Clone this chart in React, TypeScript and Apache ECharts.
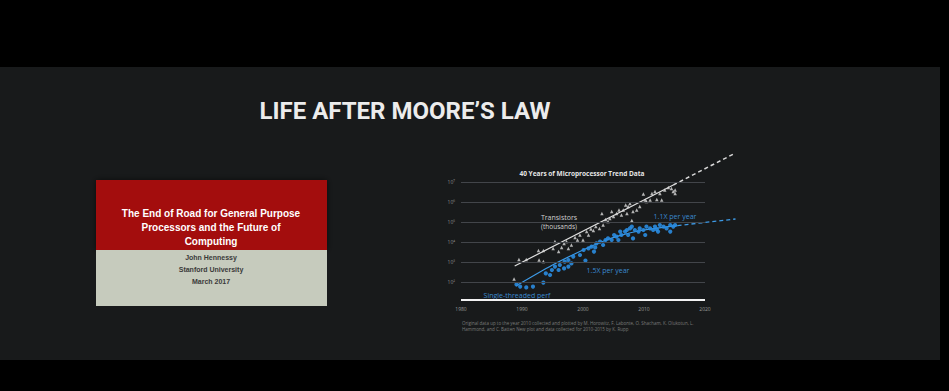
import React, { useEffect, useRef } from "react";
import * as echarts from "echarts";

// Transistor counts (log10 of thousands) per year
const transistorYears = [
  1988.7, 1989.5, 1990.7, 1992.7, 1993.5, 1992.8, 1993.5, 1995.4, 1995.1, 1996.0,
  1996.5, 1996.9, 1997.3, 1997.6, 1998.1, 1998.7, 1999.1, 1999.5, 2000.0, 2000.6,
  2000.9, 2001.3, 2001.7, 2002.1, 2002.7, 2003.1, 2003.3, 2003.7, 2004.1, 2004.7,
  2005.0, 2005.5, 2005.9, 2006.3, 2006.6, 2007.0, 2007.4, 2007.7, 2008.0, 2008.2,
  2008.8, 2009.3, 2009.9, 2010.2, 2010.4, 2011.3, 2011.8, 2012.1, 2012.6, 2012.9,
  2013.4, 2014.0, 2014.5, 2014.8, 2015.1, 2015.1, 2004.4, 2007.2, 2011.0,
];
const transistorExp = [
  2.15, 3.13, 3.13, 3.57, 3.57, 3.1, 3.02, 4.02, 3.68, 3.52,
  3.73, 3.93, 4.02, 3.68, 3.85, 4.23, 4.1, 4.35, 4.1, 4.52,
  4.35, 4.65, 4.57, 4.77, 4.68, 5.43, 4.85, 5.13, 5.02, 5.52,
  5.27, 5.43, 5.6, 5.35, 5.6, 5.85, 5.77, 5.93, 5.07, 5.52,
  5.6, 5.77, 6.4, 6.1, 6.02, 6.43, 6.52, 6.13, 6.43, 6.1,
  6.6, 6.72, 6.68, 6.52, 6.6, 6.43, 5.18, 5.43, 6.1,
];

// Single-threaded performance (log10) per year
const perfYears = [
  1989.1, 1989.7, 1990.7, 1991.8, 1993.5, 1993.9, 1994.6, 1995.4, 1996.0, 1996.2,
  1996.9, 1997.0, 1997.6, 1998.1, 1998.4, 1999.5, 2000.1, 2000.4, 2000.9, 2001.4,
  2001.8, 2002.2, 2002.8, 2003.3, 2003.7, 2004.1, 2004.7, 2005.1, 2005.5, 2006.1,
  2006.3, 2006.9, 2007.2, 2007.4, 2007.7, 2008.2, 2008.5, 2009.1, 2009.3, 2009.9,
  2010.2, 2010.4, 2011.0, 2011.5, 2011.8, 2012.3, 2012.6, 2013.2, 2013.7, 2014.3,
  2014.8, 2015.1, 2008.0, 2005.8, 1997.6, 1994.9, 2002.0, 2012.1, 2014.3,
];
const perfExp = [
  1.88, 1.77, 1.73, 1.77, 1.97, 2.43, 2.35, 2.77, 2.6, 2.85,
  2.68, 3.02, 3.1, 2.93, 3.27, 3.35, 3.6, 3.07, 3.68, 3.77,
  3.52, 3.93, 4.02, 3.85, 4.1, 4.18, 4.1, 4.35, 4.27, 4.52,
  4.35, 4.52, 4.6, 4.35, 4.68, 4.18, 4.6, 4.52, 4.68, 4.6,
  4.35, 4.77, 4.68, 4.6, 4.77, 4.52, 4.85, 4.77, 4.68, 4.85,
  4.77, 4.85, 4.77, 4.1, 2.77, 2.6, 3.73, 4.63, 4.52,
];

// Trend lines: fitted part and projection
const transistorTrendYears = [1988.8, 2014.8];
const transistorTrendExp = [2.8, 6.85];
const transistorProjYears = [2014.8, 2025];
const transistorProjExp = [6.85, 8.45];

const perfTrendYears = [1989, 1995, 2000, 2003, 2006, 2010, 2015.5];
const perfTrendExp = [1.8, 2.85, 3.6, 4.0, 4.32, 4.6, 4.82];
const perfProjYears = [2015.5, 2025];
const perfProjExp = [4.82, 5.15];

const decadeTicks = [2, 3, 4, 5, 6, 7];
const yearTicks = [1980, 1990, 2000, 2010, 2020];
const supDigits: Record<string, string> = {
  "0": "⁰", "1": "¹", "2": "²", "3": "³", "4": "⁴", "5": "⁵", "6": "⁶", "7": "⁷", "8": "⁸", "9": "⁹",
};

const pairs = (xs: number[], ys: number[]) => xs.map((x, i) => [x, ys[i]]);

const BLUE = "#2a8ce0";
const WHITE_PT = "#dcdcdc";
const CHART_FONT = "'Open Sans', 'DejaVu Sans', sans-serif";

export default function App() {
  const ref = useRef<HTMLDivElement>(null);

  useEffect(() => {
    if (!ref.current) return;
    const chart = echarts.init(ref.current, undefined, { renderer: "svg" });

    const gridLines = decadeTicks.map((d) => [
      { coord: [1980, d] },
      { coord: [2020, d] },
    ]);

    chart.setOption({
      animation: false,
      backgroundColor: "#000000",
      grid: {
        left: 461,
        top: 150,
        width: 274.5,
        height: 150,
        containLabel: false,
        outerBoundsMode: "none",
      },
      xAxis: {
        type: "value",
        min: 1980,
        max: 2025,
        axisLine: { show: false },
        axisTick: { show: false },
        splitLine: { show: false },
        axisLabel: {
          customValues: yearTicks,
          formatter: (v: number) => String(v),
          color: "#9a9a9a",
          fontSize: 5,
          fontFamily: CHART_FONT,
          margin: 6,
        },
      },
      yAxis: {
        type: "value",
        min: 1.1,
        max: 8.6,
        axisLine: { show: false },
        axisTick: { show: false },
        splitLine: { show: false },
        axisLabel: {
          customValues: decadeTicks,
          formatter: (v: number) => "10" + String(v).split("").map((c) => supDigits[c] || c).join(""),
          color: "#8a8a8a",
          fontSize: 5,
          fontFamily: CHART_FONT,
          margin: 6,
        },
      },
      graphic: [
        // slide background
        { type: "rect", z: -10, shape: { x: 0, y: 67, width: 940, height: 293 }, style: { fill: "#181a1b" } },
        // title slide thumbnail
        {
          type: "rect",
          z: -5,
          shape: { x: 96, y: 180, width: 231, height: 70 },
          style: { fill: "#a30d0d", shadowBlur: 6, shadowColor: "rgba(0,0,0,0.6)" },
        },
        { type: "rect", z: -5, shape: { x: 96, y: 250, width: 231, height: 56 }, style: { fill: "#c6cbbd" } },
        ...[
          ["The End of Road for General Purpose", 213],
          ["Processors and the Future of", 227],
          ["Computing", 241],
        ].map(([t, y]) => ({
          type: "text",
          z: 5,
          x: 211,
          y: y as number,
          style: {
            text: t as string,
            fill: "#ffffff",
            font: "bold 10px 'Liberation Sans', Arial, sans-serif",
            align: "center",
            verticalAlign: "middle",
          },
        })),
        ...[
          ["John Hennessy", 257],
          ["Stanford University", 269],
          ["March 2017", 281],
        ].map(([t, y]) => ({
          type: "text",
          z: 5,
          x: 211,
          y: y as number,
          style: {
            text: t as string,
            fill: "#3a3a3a",
            font: "bold 7px 'Liberation Sans', Arial, sans-serif",
            align: "center",
            verticalAlign: "middle",
          },
        })),
        // slide heading
        {
          type: "text",
          z: 5,
          x: 405,
          y: 111,
          style: {
            text: "LIFE AFTER MOORE’S LAW",
            fill: "#ececec",
            font: "bold 24px Roboto, 'DejaVu Sans', sans-serif",
            align: "center",
            verticalAlign: "middle",
          },
        },
        // chart title
        {
          type: "text",
          z: 5,
          x: 582,
          y: 173,
          style: {
            text: "40 Years of Microprocessor Trend Data",
            fill: "#e6e6e6",
            font: `bold 6.5px ${CHART_FONT}`,
            align: "center",
            verticalAlign: "middle",
          },
        },
        // annotations
        {
          type: "text",
          z: 5,
          x: 559,
          y: 217,
          style: { text: "Transistors", fill: "#d0d0d0", font: `7px ${CHART_FONT}`, align: "center", verticalAlign: "middle" },
        },
        {
          type: "text",
          z: 5,
          x: 559,
          y: 226,
          style: { text: "(thousands)", fill: "#d0d0d0", font: `6.5px ${CHART_FONT}`, align: "center", verticalAlign: "middle" },
        },
        {
          type: "text",
          z: 5,
          x: 675,
          y: 216,
          style: { text: "1.1X per year", fill: "#3a8ad0", font: `7px ${CHART_FONT}`, align: "center", verticalAlign: "middle" },
        },
        {
          type: "text",
          z: 5,
          x: 608,
          y: 270,
          style: { text: "1.5X per year", fill: "#3a8ad0", font: `7px ${CHART_FONT}`, align: "center", verticalAlign: "middle" },
        },
        {
          type: "text",
          z: 5,
          x: 517,
          y: 295,
          style: { text: "Single-threaded perf", fill: "#3a8ad0", font: `7px ${CHART_FONT}`, align: "center", verticalAlign: "middle" },
        },
        // source note
        {
          type: "text",
          z: 5,
          x: 462,
          y: 323,
          style: {
            text: "Original data up to the year 2010 collected and plotted by M. Horowitz, F. Labonte, O. Shacham, K. Olukotun, L.",
            fill: "#7a7a7a",
            font: `4.5px ${CHART_FONT}`,
            align: "left",
            verticalAlign: "middle",
          },
        },
        {
          type: "text",
          z: 5,
          x: 462,
          y: 328.5,
          style: {
            text: "Hammond, and C. Batten New plot and data collected for 2010-2015 by K. Rupp",
            fill: "#7a7a7a",
            font: `4.5px ${CHART_FONT}`,
            align: "left",
            verticalAlign: "middle",
          },
        },
      ],
      series: [
        {
          name: "grid",
          type: "line",
          data: [],
          silent: true,
          markLine: {
            silent: true,
            symbol: "none",
            label: { show: false },
            lineStyle: { color: "#42454a", width: 1, type: "solid" },
            data: [
              ...gridLines,
              [
                { coord: [1980, 1.1], lineStyle: { color: "#f2f2f2", width: 2, type: "solid" } },
                { coord: [2020, 1.1] },
              ],
            ],
          },
        },
        {
          name: "Transistors trend",
          type: "line",
          data: pairs(transistorTrendYears, transistorTrendExp),
          symbol: "none",
          lineStyle: { color: "#e0e0e0", width: 1.2 },
          z: 3,
        },
        {
          name: "Transistors projection",
          type: "line",
          data: pairs(transistorProjYears, transistorProjExp),
          symbol: "none",
          lineStyle: { color: "#d8d8d8", width: 1.5, type: [4, 3] },
          z: 3,
        },
        {
          name: "Perf trend",
          type: "line",
          data: pairs(perfTrendYears, perfTrendExp),
          symbol: "none",
          smooth: 0.3,
          lineStyle: { color: "#3d9ae6", width: 1.2 },
          z: 3,
        },
        {
          name: "Perf projection",
          type: "line",
          data: pairs(perfProjYears, perfProjExp),
          symbol: "none",
          lineStyle: { color: "#3d9ae6", width: 1.3, type: [4, 3] },
          z: 3,
        },
        {
          name: "Transistors",
          type: "scatter",
          data: pairs(transistorYears, transistorExp),
          symbol: "triangle",
          symbolSize: 3.5,
          itemStyle: { color: WHITE_PT },
          z: 4,
        },
        {
          name: "Single-threaded perf",
          type: "scatter",
          data: pairs(perfYears, perfExp),
          symbol: "circle",
          symbolSize: 4.2,
          itemStyle: { color: BLUE, opacity: 0.9 },
          z: 4,
        },
      ],
    });

    return () => chart.dispose();
  }, []);

  return (
    <div
      ref={ref}
      style={{ position: "fixed", left: 0, top: 0, width: 949, height: 391 }}
    />
  );
}
